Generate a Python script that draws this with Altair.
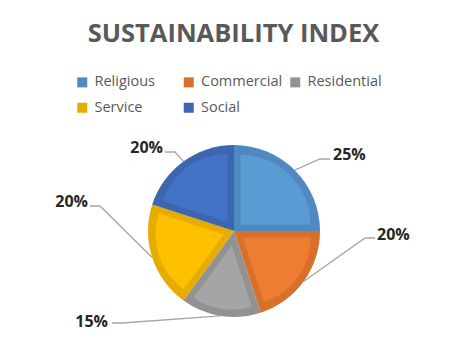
import math
import altair as alt
import pandas as pd

# ---------------- data ----------------
categories = ["Religious", "Commercial", "Residential", "Service", "Social"]
values = [25, 20, 15, 20, 20]
labels = ["25%", "20%", "15%", "20%", "20%"]
title_text = "SUSTAINABILITY INDEX"

# ---------------- styles / layout ----------------
fill_colors = ["#5B9BD5", "#ED7D31", "#A5A5A5", "#FFC000", "#4472C4"]
edge_colors = ["#4F89BF", "#D6702B", "#929292", "#E6AD00", "#3D66B0"]
W, H = 452, 324
CX, CY = 226, 223
R = 86
INSET_SIDE = 6.5
INSET_RIM = 7
# label anchor (text) and leader-line end, relative to the pie centre
label_text_offsets = [(99, -71.5), (143, 9), (-126, 96), (-146, -24), (-71, -78)]
line_end_offsets = [(96, -72), (141, 7), (-122, 92), (-144, -25), (-69, -79)]
label_side = ["right", "right", "left", "left", "left"]
ELBOW = 10

# ---------------- derived tables ----------------
total = sum(values)
t0, t1 = [], []
acc = 0
for v in values:
    t0.append(acc)
    acc += v
    t1.append(acc)

rows_inner = []
for i, c in enumerate(categories):
    a0 = t0[i] / total * 2 * math.pi
    a1 = t1[i] / total * 2 * math.pi
    mid = (a0 + a1) / 2
    half = (a1 - a0) / 2
    d = INSET_SIDE / math.sin(half)
    rows_inner.append({
        "category": c, "t0": t0[i], "t1": t1[i],
        "ix": CX + d * math.sin(mid), "iy": CY - d * math.cos(mid),
        "ir": R - INSET_RIM - d, "fill": fill_colors[i],
    })
pie_df = pd.DataFrame({"category": categories, "value": values, "t0": t0, "t1": t1})
inner_df = pd.DataFrame(rows_inner)

line_rows, text_rows = [], []
for i, c in enumerate(categories):
    mid = (t0[i] + t1[i]) / 2 / total * 2 * math.pi
    ex, ey = CX + line_end_offsets[i][0], CY + line_end_offsets[i][1]
    sgn = -1 if label_side[i] == "right" else 1
    pts = [(CX + R * math.sin(mid), CY - R * math.cos(mid)), (ex + sgn * ELBOW, ey), (ex, ey)]
    for k, (px, py) in enumerate(pts):
        line_rows.append({"category": c, "pt": k, "x": px, "y": py})
    text_rows.append({"category": c, "label": labels[i], "side": label_side[i],
                      "x": CX + label_text_offsets[i][0], "y": CY + label_text_offsets[i][1]})
line_df = pd.DataFrame(line_rows)
text_df = pd.DataFrame(text_rows)

theta_scale = alt.Scale(domain=[0, total], range=[0, 2 * math.pi])

leaders = alt.Chart(line_df).mark_line(color="#A6A6A6", strokeWidth=1.3).encode(
    x=alt.X("x:Q", scale=None), y=alt.Y("y:Q", scale=None),
    detail="category:N", order="pt:Q")

outer = alt.Chart(pie_df).mark_arc(outerRadius=R).encode(
    theta=alt.Theta("t0:Q", scale=theta_scale), theta2="t1:Q",
    color=alt.Color("category:N",
                    scale=alt.Scale(domain=categories, range=edge_colors),
                    legend=alt.Legend(title=None, orient="none", legendX=67, legendY=67,
                                      direction="horizontal", columns=3, gridAlign="all",
                                      symbolType="square", symbolSize=100, symbolStrokeWidth=0,
                                      labelFont="Open Sans", labelFontSize=14.5,
                                      labelColor="#595959", labelOffset=5,
                                      columnPadding=5.5, rowPadding=10.5, padding=0)),
    x=alt.value(CX), y=alt.value(CY))

inner = alt.Chart(inner_df).mark_arc().encode(
    theta=alt.Theta("t0:Q", scale=theta_scale), theta2="t1:Q",
    radius=alt.Radius("ir:Q", scale=None),
    x=alt.X("ix:Q", scale=None), y=alt.Y("iy:Q", scale=None),
    fill=alt.Fill("fill:N", scale=None))

label_base = alt.Chart(text_df).encode(
    x=alt.X("x:Q", scale=None), y=alt.Y("y:Q", scale=None), text="label:N")
labels_right = label_base.transform_filter(alt.datum.side == "right").mark_text(
    align="left", baseline="alphabetic", font="Open Sans", fontWeight="bold",
    fontSize=16, color="#262626")
labels_left = label_base.transform_filter(alt.datum.side == "left").mark_text(
    align="right", baseline="alphabetic", font="Open Sans", fontWeight="bold",
    fontSize=16, color="#262626")

title = alt.Chart(pd.DataFrame({"t": [title_text]})).mark_text(
    align="center", baseline="alphabetic", font="Open Sans", fontWeight="bold",
    fontSize=25.5, color="#595959").encode(
    text="t:N", x=alt.value(W / 2 - 0.5), y=alt.value(34))

chart = alt.layer(leaders, outer, inner, labels_right, labels_left, title).properties(
    width=W, height=H, autosize=alt.AutoSizeParams(type="none"), padding=0,
    background="white").configure_view(stroke=None)

chart.save("out.html", embed_options={"renderer": "svg", "actions": False})
